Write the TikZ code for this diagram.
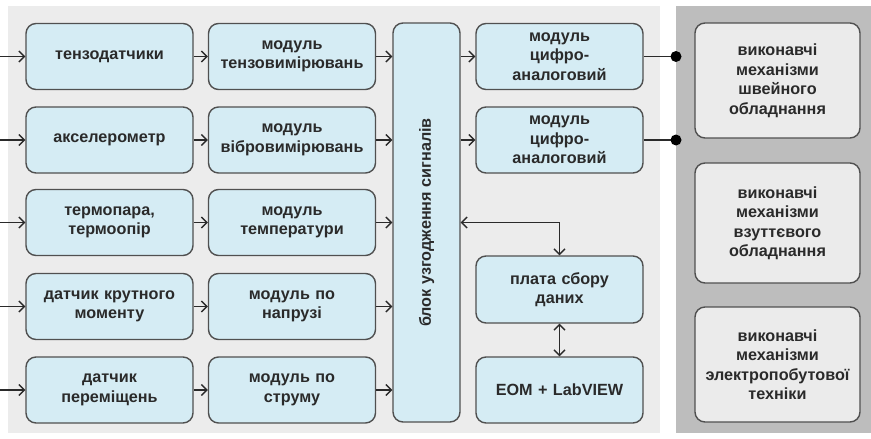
\documentclass[tikz,border=0pt]{standalone}
\usepackage{fontspec}
\setmainfont{Liberation Sans}
\usetikzlibrary{arrows.meta}
\definecolor{boxblue}{HTML}{D5ECF4}
\definecolor{panel}{HTML}{ECECEC}
\definecolor{darkpanel}{HTML}{BDBDBD}
\definecolor{rbox}{HTML}{EBEBEB}
\definecolor{edge}{HTML}{505050}
\definecolor{ink}{HTML}{2A2A2A}
\begin{document}
\begin{tikzpicture}[x=1pt,y=-1pt,
  txt/.style={font=\fontsize{16.2}{19.5}\selectfont\bfseries, text=ink},
  box/.style={txt, draw=edge, line width=1.4pt, rounded corners=10pt, fill=boxblue, inner sep=0pt, align=center,
    minimum height=66pt},
  cw/.style={minimum width=167pt, text width=162pt},
  gbox/.style={box, fill=rbox, minimum width=165pt, text width=162pt},
  tip/.style={Straight Barb[length=5.5pt,width=11pt]},
  arr/.style={draw=ink, line width=1.3pt, -{Straight Barb[length=5.5pt,width=11pt]}},
  darr/.style={draw=ink, line width=1.3pt, {Straight Barb[length=5.5pt,width=11pt]}-{Straight Barb[length=5.5pt,width=11pt]}},
  wire/.style={draw=ink, line width=1.3pt},
  dot/.style={fill=black}]
\useasboundingbox (0,0) rectangle (871,439);
\fill[white] (0,0) rectangle (871,439);
\fill[panel] (8,6) rectangle (660,433);
\fill[darkpanel] (676,6) rectangle (871,433);

% column 1: sensors
\node[box,cw] (s1) at (109.5,56.5) {тензодатчики};
\node[box,cw] (s2) at (109.5,140) {акселерометр};
\node[box,cw] (s3) at (109.5,222.5) {термопара,\\термоопір};
\node[box,cw] (s4) at (109.5,306.5) {датчик крутного\\моменту};
\node[box,cw] (s5) at (109.5,390) {датчик\\переміщень};

% column 2: modules
\node[box,cw] (m1) at (292,56.5) {модуль\\тензовимірювань};
\node[box,cw] (m2) at (292,140) {модуль\\вібровимірювань};
\node[box,cw] (m3) at (292,222.5) {модуль\\температури};
\node[box,cw] (m4) at (292,306.5) {модуль по\\напрузі};
\node[box,cw] (m5) at (292,390) {модуль по\\струму};

% matching block
\node[box, minimum width=67pt, minimum height=399pt] (blk) at (426.5,222.5) {};
\node[txt, rotate=90] (blkt) at (blk.center) {блок узгодження сигналів};

% column 4
\node[box,cw] (d1) at (559.5,56.5) {модуль\\цифро-\\аналоговий};
\node[box,cw] (d2) at (559.5,140) {модуль\\цифро-\\аналоговий};
\node[box,cw, minimum height=67pt] (pl) at (559.5,289.5) {плата сбору\\даних};
\node[box,cw] (pc) at (559.5,390) {ЕОМ + LabVIEW};

% right boxes
\node[gbox, minimum height=115pt] (r1) at (777.5,80.5) {виконавчі\\механізми\\швейного\\обладнання};
\node[gbox, minimum height=120pt] (r2) at (777.5,223) {виконавчі\\механізми\\взуттєвого\\обладнання};
\node[gbox, minimum height=115pt] (r3) at (777.5,364.5) {виконавчі\\механізми\\электропобутової\\техніки};

% arrows
\foreach \i/\y in {1/56.5,2/140,3/222.5,4/306.5,5/390} {
  \coordinate (in\i) at (0,\y);
  \draw[arr] (in\i) -- (s\i.west);
  \draw[arr] (s\i.east) -- (m\i.west);
  \draw[arr] (m\i.east) -- (blk.west |- m\i.east);
}
\draw[arr] (blk.east |- d1.west) -- (d1.west);
\draw[arr] (blk.east |- d2.west) -- (d2.west);
\draw[darr] (blk.east |- m3.east) -| (pl.north);
\draw[darr] (pl.south) -- (pc.north);

% outputs to actuators
\coordinate (o1) at (676,56.5);
\coordinate (o2) at (676,140);
\draw[wire] (d1.east) -- (o1);
\draw[wire] (d2.east) -- (o2);
\fill[dot] (o1) circle (5.5pt);
\fill[dot] (o2) circle (5.5pt);
\end{tikzpicture}
\end{document}
